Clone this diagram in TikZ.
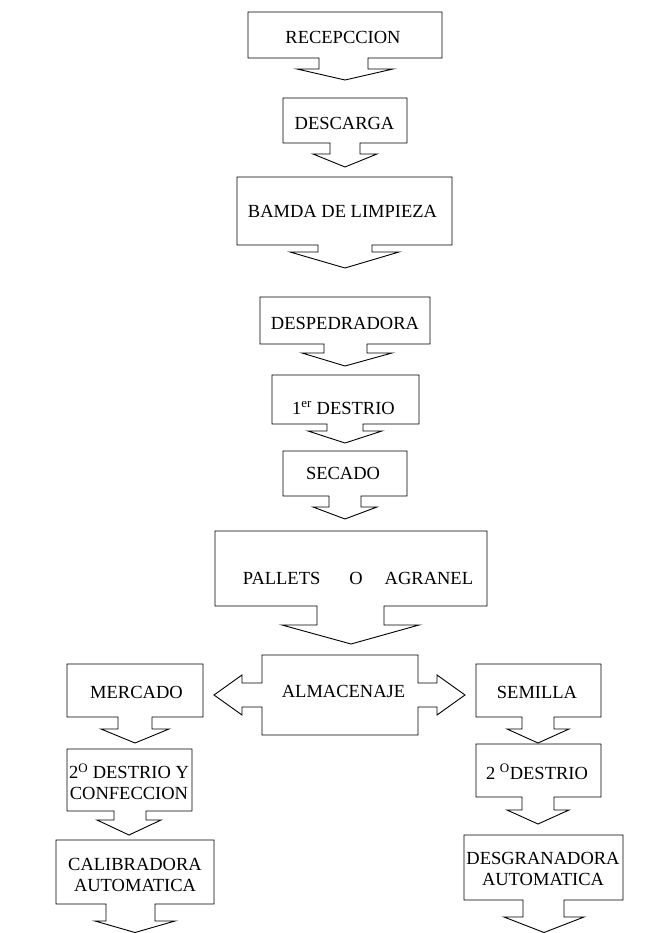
\documentclass[tikz,border=0pt]{standalone}
\usepackage{fontspec}
\setmainfont{Liberation Serif}
\begin{document}
\begin{tikzpicture}[x=1pt,y=-1pt,
  shapeline/.style={draw=black,line width=0.9pt,line join=miter,fill=white},
  lbl/.style={inner sep=0pt,anchor=base,font=\fontsize{18.5}{21.5}\selectfont},
  lbltwo/.style={inner sep=0pt,anchor=south,text depth=0pt,align=center,font=\fontsize{18.5}{21.5}\selectfont}]
\useasboundingbox (0,0) rectangle (669,933);

% RECEPCCION
\draw[shapeline] (248,12) -- (442,12) -- (442,58) -- (368,58) -- (368,69) -- (393,69) -- (345,80) -- (297,69) -- (319,69) -- (319,58) -- (248,58) -- cycle;
\node[lbl] (recep) at (343,43.5) {RECEPCCION};

% DESCARGA
\draw[shapeline] (283,98) -- (407,98) -- (407,143) -- (360,143) -- (360,154) -- (377,154) -- (345,167) -- (313,154) -- (330,154) -- (330,143) -- (283,143) -- cycle;
\node[lbl] (desc) at (344.5,130) {DESCARGA};

% BAMDA DE LIMPIEZA
\draw[shapeline] (237,177) -- (452,177) -- (452,245) -- (372,245) -- (372,252) -- (399,252) -- (345,268) -- (290,252) -- (318,252) -- (318,245) -- (237,245) -- cycle;
\node[lbl] (bamda) at (342.5,218) {BAMDA DE LIMPIEZA};

% DESPEDRADORA
\draw[shapeline] (260,297) -- (430,297) -- (430,344) -- (367,344) -- (367,353) -- (392,353) -- (345,366) -- (302,353) -- (324,353) -- (324,344) -- (260,344) -- cycle;
\node[lbl] (desped) at (345,329) {DESPEDRADORA};

% 1er DESTRIO
\draw[shapeline] (272,375) -- (419,375) -- (419,424) -- (363,424) -- (363,431) -- (382,431) -- (345,443) -- (308,431) -- (327,431) -- (327,424) -- (272,424) -- cycle;
\node[lbl] (destrio1) at (343.5,414) {1\textsuperscript{er} DESTRIO};

% SECADO
\draw[shapeline] (283,451) -- (407,451) -- (407,496) -- (361,496) -- (361,507) -- (377,507) -- (345,519) -- (313,507) -- (329,507) -- (329,496) -- (283,496) -- cycle;
\node[lbl] (secado) at (343,479) {SECADO};

% PALLETS O AGRANEL
\draw[shapeline] (215,531) -- (487,531) -- (487,606) -- (384,606) -- (384,625) -- (419,625) -- (351,644) -- (282,625) -- (317,625) -- (317,606) -- (215,606) -- cycle;
\node[lbl] (pallets) at (358,584) {PALLETS\hspace{29pt}O\hspace{22pt}AGRANEL};

% ALMACENAJE
\draw[shapeline] (262,655) -- (418,655) -- (418,683) -- (437,683) -- (437,675) -- (465,695) -- (437,715) -- (437,707) -- (418,707) -- (418,735) -- (262,735) -- (262,707) -- (242,707) -- (242,715) -- (214,695) -- (242,675) -- (242,683) -- (262,683) -- cycle;
\node[lbl] (alm) at (343.5,697) {ALMACENAJE};

% MERCADO
\draw[shapeline] (67,664) -- (203,664) -- (203,717) -- (152,717) -- (152,729) -- (169,729) -- (135,743) -- (101,729) -- (118,729) -- (118,717) -- (67,717) -- cycle;
\node[lbl] (mercado) at (136.5,698) {MERCADO};

% SEMILLA
\draw[shapeline] (476,664) -- (601,664) -- (601,717) -- (554,717) -- (554,729) -- (569,729) -- (538,743) -- (507,729) -- (522,729) -- (522,717) -- (476,717) -- cycle;
\node[lbl] (semilla) at (537,698) {SEMILLA};

% 2o DESTRIO Y CONFECCION
\draw[shapeline] (67,749) -- (192,749) -- (192,811) -- (146,811) -- (146,820) -- (161,820) -- (129,835) -- (97,820) -- (114,820) -- (114,811) -- (67,811) -- cycle;
\node[lbltwo] (destrio2l) at (129,800) {2\textsuperscript{O} DESTRIO Y\\CONFECCION};

% 2o DESTRIO (right)
\draw[shapeline] (476,744) -- (601,744) -- (601,797) -- (554,797) -- (554,810) -- (569,810) -- (538,824) -- (507,810) -- (522,810) -- (522,797) -- (476,797) -- cycle;
\node[lbl] (destrio2r) at (537,779) {2 \textsuperscript{O}DESTRIO};

% CALIBRADORA AUTOMATICA
\draw[shapeline] (56,840) -- (214,840) -- (214,904) -- (155,904) -- (155,921) -- (175,921) -- (135,932.5) -- (95,921) -- (106,921) -- (106,904) -- (56,904) -- cycle;
\node[lbltwo] (calib) at (135,892) {CALIBRADORA\\AUTOMATICA};

% DESGRANADORA AUTOMATICA
\draw[shapeline] (464,835) -- (623,835) -- (623,900) -- (564,900) -- (564,917) -- (584,917) -- (544,932.5) -- (504,917) -- (523,917) -- (523,900) -- (464,900) -- cycle;
\node[lbltwo] (desgr) at (543,886) {DESGRANADORA\\AUTOMATICA};

\end{tikzpicture}
\end{document}
